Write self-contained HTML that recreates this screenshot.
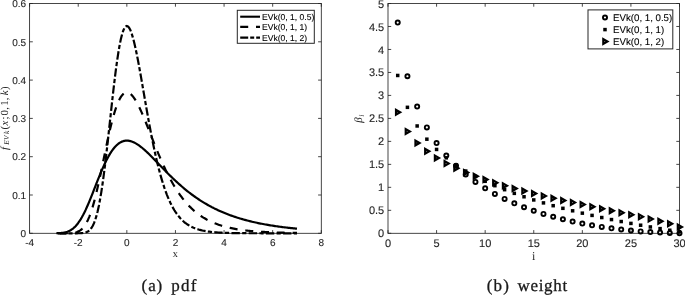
<!DOCTYPE html>
<html lang="en"><head><meta charset="utf-8"><title>EVk pdf and weight</title>
<style>html,body{margin:0;padding:0;background:#fff}svg{display:block}</style></head>
<body>
<svg width="685" height="295" viewBox="0 0 685 295">
<rect width="685" height="295" fill="#fff"/>
<g text-rendering="geometricPrecision">
<g stroke="#262626" stroke-width="0.85" fill="none" stroke-linecap="butt">
<rect x="29.60" y="3.50" width="291.70" height="229.80"/>
<path d="M29.60 233.30v-3.2M29.60 3.50v3.2M78.22 233.30v-3.2M78.22 3.50v3.2M126.83 233.30v-3.2M126.83 3.50v3.2M175.45 233.30v-3.2M175.45 3.50v3.2M224.07 233.30v-3.2M224.07 3.50v3.2M272.68 233.30v-3.2M272.68 3.50v3.2M321.30 233.30v-3.2M321.30 3.50v3.2M29.60 233.30h3.2M321.30 233.30h-3.2M29.60 195.00h3.2M321.30 195.00h-3.2M29.60 156.70h3.2M321.30 156.70h-3.2M29.60 118.40h3.2M321.30 118.40h-3.2M29.60 80.10h3.2M321.30 80.10h-3.2M29.60 41.80h3.2M321.30 41.80h-3.2M29.60 3.50h3.2M321.30 3.50h-3.2"/>
</g>
<g font-family="'Liberation Sans', sans-serif" font-size="10.0" fill="#262626" stroke="#262626" stroke-width="0.12">
<text x="29.60" y="246.20" text-anchor="middle">-4</text>
<text x="78.22" y="246.20" text-anchor="middle">-2</text>
<text x="126.83" y="246.20" text-anchor="middle">0</text>
<text x="175.45" y="246.20" text-anchor="middle">2</text>
<text x="224.07" y="246.20" text-anchor="middle">4</text>
<text x="272.68" y="246.20" text-anchor="middle">6</text>
<text x="321.30" y="246.20" text-anchor="middle">8</text>
<text x="26.10" y="237.00" text-anchor="end">0</text>
<text x="26.10" y="198.70" text-anchor="end">0.1</text>
<text x="26.10" y="160.40" text-anchor="end">0.2</text>
<text x="26.10" y="122.10" text-anchor="end">0.3</text>
<text x="26.10" y="83.80" text-anchor="end">0.4</text>
<text x="26.10" y="45.50" text-anchor="end">0.5</text>
<text x="26.10" y="7.20" text-anchor="end">0.6</text>
</g>
<g fill="none" stroke="#000" stroke-width="2.2" stroke-linejoin="round">
<polyline points="56.34,233.23 57.55,233.19 58.77,233.13 59.99,233.06 61.20,232.95 62.42,232.81 63.63,232.63 64.85,232.39 66.06,232.09 67.28,231.72 68.49,231.25 69.71,230.68 70.92,230.01 72.14,229.20 73.36,228.26 74.57,227.18 75.79,225.94 77.00,224.54 78.22,222.97 79.43,221.24 80.65,219.34 81.86,217.27 83.08,215.05 84.29,212.67 85.51,210.15 86.72,207.49 87.94,204.72 89.16,201.85 90.37,198.89 91.59,195.87 92.80,192.79 94.02,189.69 95.23,186.57 96.45,183.45 97.66,180.37 98.88,177.32 100.09,174.33 101.31,171.42 102.53,168.59 103.74,165.86 104.96,163.24 106.17,160.75 107.39,158.39 108.60,156.16 109.82,154.08 111.03,152.15 112.25,150.37 113.46,148.74 114.68,147.27 115.89,145.95 117.11,144.78 118.33,143.77 119.54,142.91 120.76,142.19 121.97,141.61 123.19,141.17 124.40,140.86 125.62,140.68 126.83,140.63 128.05,140.68 129.26,140.85 130.48,141.12 131.69,141.49 132.91,141.95 134.13,142.50 135.34,143.12 136.56,143.83 137.77,144.60 138.99,145.43 140.20,146.32 141.42,147.27 142.63,148.26 143.85,149.30 145.06,150.38 146.28,151.49 147.50,152.63 148.71,153.80 149.93,154.99 151.14,156.20 152.36,157.42 153.57,158.66 154.79,159.91 156.00,161.17 157.22,162.43 158.43,163.70 159.65,164.96 160.86,166.23 162.08,167.49 163.30,168.74 164.51,169.99 165.73,171.24 166.94,172.47 168.16,173.69 169.37,174.91 170.59,176.11 171.80,177.29 173.02,178.47 174.23,179.62 175.45,180.77 176.67,181.90 177.88,183.01 179.10,184.10 180.31,185.18 181.53,186.24 182.74,187.29 183.96,188.31 185.17,189.32 186.39,190.31 187.60,191.28 188.82,192.24 190.03,193.18 191.25,194.10 192.47,195.00 193.68,195.88 194.90,196.75 196.11,197.60 197.33,198.43 198.54,199.25 199.76,200.05 200.97,200.83 202.19,201.59 203.40,202.34 204.62,203.07 205.84,203.79 207.05,204.49 208.27,205.18 209.48,205.85 210.70,206.50 211.91,207.15 213.13,207.77 214.34,208.39 215.56,208.98 216.77,209.57 217.99,210.14 219.20,210.70 220.42,211.25 221.64,211.78 222.85,212.30 224.07,212.81 225.28,213.31 226.50,213.79 227.71,214.27 228.93,214.73 230.14,215.18 231.36,215.62 232.57,216.05 233.79,216.47 235.01,216.88 236.22,217.28 237.44,217.68 238.65,218.06 239.87,218.43 241.08,218.79 242.30,219.15 243.51,219.50 244.73,219.83 245.94,220.16 247.16,220.49 248.37,220.80 249.59,221.11 250.81,221.41 252.02,221.70 253.24,221.98 254.45,222.26 255.67,222.53 256.88,222.80 258.10,223.05 259.31,223.31 260.53,223.55 261.74,223.79 262.96,224.03 264.18,224.25 265.39,224.48 266.61,224.69 267.82,224.91 269.04,225.11 270.25,225.31 271.47,225.51 272.68,225.70 273.90,225.89 275.11,226.07 276.33,226.25 277.55,226.42 278.76,226.59 279.98,226.76 281.19,226.92 282.41,227.08 283.62,227.23 284.84,227.38 286.05,227.53 287.27,227.67 288.48,227.81 289.70,227.94 290.91,228.07 292.13,228.20 293.35,228.33 294.56,228.45 295.78,228.57 296.99,228.69"/>
<polyline points="56.34,233.30 57.55,233.30 58.77,233.30 59.99,233.30 61.20,233.30 62.42,233.30 63.63,233.29 64.85,233.29 66.06,233.28 67.28,233.26 68.49,233.23 69.71,233.19 70.92,233.12 72.14,233.02 73.36,232.88 74.57,232.69 75.79,232.41 77.00,232.04 78.22,231.55 79.43,230.91 80.65,230.10 81.86,229.09 83.08,227.83 84.29,226.32 85.51,224.51 86.72,222.37 87.94,219.90 89.16,217.07 90.37,213.88 91.59,210.31 92.80,206.38 94.02,202.09 95.23,197.47 96.45,192.54 97.66,187.33 98.88,181.89 100.09,176.25 101.31,170.47 102.53,164.60 103.74,158.69 104.96,152.79 106.17,146.95 107.39,141.24 108.60,135.68 109.82,130.35 111.03,125.26 112.25,120.47 113.46,115.99 114.68,111.87 115.89,108.12 117.11,104.76 118.33,101.81 119.54,99.25 120.76,97.12 121.97,95.39 123.19,94.06 124.40,93.13 125.62,92.58 126.83,92.40 128.05,92.58 129.26,93.08 130.48,93.90 131.69,95.02 132.91,96.40 134.13,98.04 135.34,99.90 136.56,101.97 137.77,104.22 138.99,106.64 140.20,109.20 141.42,111.88 142.63,114.67 143.85,117.55 145.06,120.49 146.28,123.50 147.50,126.54 148.71,129.60 149.93,132.69 151.14,135.77 152.36,138.85 153.57,141.91 154.79,144.94 156.00,147.94 157.22,150.90 158.43,153.82 159.65,156.68 160.86,159.49 162.08,162.24 163.30,164.93 164.51,167.55 165.73,170.11 166.94,172.60 168.16,175.01 169.37,177.36 170.59,179.64 171.80,181.84 173.02,183.97 174.23,186.04 175.45,188.03 176.67,189.95 177.88,191.80 179.10,193.59 180.31,195.31 181.53,196.97 182.74,198.56 183.96,200.10 185.17,201.57 186.39,202.98 187.60,204.34 188.82,205.64 190.03,206.89 191.25,208.09 192.47,209.23 193.68,210.33 194.90,211.38 196.11,212.39 197.33,213.35 198.54,214.28 199.76,215.16 200.97,216.00 202.19,216.81 203.40,217.58 204.62,218.31 205.84,219.01 207.05,219.69 208.27,220.33 209.48,220.94 210.70,221.52 211.91,222.08 213.13,222.61 214.34,223.12 215.56,223.60 216.77,224.06 217.99,224.50 219.20,224.92 220.42,225.32 221.64,225.70 222.85,226.07 224.07,226.41 225.28,226.74 226.50,227.06 227.71,227.36 228.93,227.64 230.14,227.91 231.36,228.17 232.57,228.42 233.79,228.66 235.01,228.88 236.22,229.09 237.44,229.30 238.65,229.49 239.87,229.67 241.08,229.85 242.30,230.01 243.51,230.17 244.73,230.33 245.94,230.47 247.16,230.61 248.37,230.74 249.59,230.86 250.81,230.98 252.02,231.09 253.24,231.20 254.45,231.30 255.67,231.40 256.88,231.49 258.10,231.58 259.31,231.66 260.53,231.74 261.74,231.82 262.96,231.89 264.18,231.96 265.39,232.02 266.61,232.08 267.82,232.14 269.04,232.20 270.25,232.25 271.47,232.30 272.68,232.35 273.90,232.40 275.11,232.44 276.33,232.48 277.55,232.52 278.76,232.56 279.98,232.60 281.19,232.63 282.41,232.66 283.62,232.70 284.84,232.73 286.05,232.75 287.27,232.78 288.48,232.81 289.70,232.83 290.91,232.85 292.13,232.87 293.35,232.89 294.56,232.91 295.78,232.93 296.99,232.95" stroke-dasharray="8 7.8" stroke-dashoffset="12.27"/>
<polyline points="56.34,233.30 57.55,233.30 58.77,233.30 59.99,233.30 61.20,233.30 62.42,233.30 63.63,233.30 64.85,233.30 66.06,233.30 67.28,233.30 68.49,233.30 69.71,233.30 70.92,233.30 72.14,233.30 73.36,233.30 74.57,233.30 75.79,233.29 77.00,233.28 78.22,233.27 79.43,233.24 80.65,233.19 81.86,233.11 83.08,232.99 84.29,232.79 85.51,232.49 86.72,232.05 87.94,231.43 89.16,230.55 90.37,229.36 91.59,227.78 92.80,225.73 94.02,223.13 95.23,219.89 96.45,215.95 97.66,211.23 98.88,205.70 100.09,199.31 101.31,192.08 102.53,184.01 103.74,175.16 104.96,165.60 106.17,155.43 107.39,144.78 108.60,133.78 109.82,122.60 111.03,111.39 112.25,100.33 113.46,89.59 114.68,79.31 115.89,69.65 117.11,60.75 118.33,52.72 119.54,45.64 120.76,39.61 121.97,34.65 123.19,30.82 124.40,28.10 125.62,26.49 126.83,25.97 128.05,26.48 129.26,27.96 130.48,30.36 131.69,33.59 132.91,37.57 134.13,42.22 135.34,47.45 136.56,53.17 137.77,59.30 138.99,65.75 140.20,72.46 141.42,79.34 142.63,86.33 143.85,93.37 145.06,100.40 146.28,107.38 147.50,114.26 148.71,121.00 149.93,127.57 151.14,133.96 152.36,140.13 153.57,146.07 154.79,151.76 156.00,157.21 157.22,162.40 158.43,167.33 159.65,172.00 160.86,176.41 162.08,180.57 163.30,184.48 164.51,188.16 165.73,191.60 166.94,194.82 168.16,197.82 169.37,200.62 170.59,203.22 171.80,205.64 173.02,207.89 174.23,209.97 175.45,211.89 176.67,213.67 177.88,215.32 179.10,216.83 180.31,218.23 181.53,219.52 182.74,220.70 183.96,221.79 185.17,222.78 186.39,223.70 187.60,224.54 188.82,225.31 190.03,226.02 191.25,226.66 192.47,227.25 193.68,227.79 194.90,228.28 196.11,228.73 197.33,229.15 198.54,229.52 199.76,229.86 200.97,230.17 202.19,230.46 203.40,230.72 204.62,230.95 205.84,231.17 207.05,231.36 208.27,231.54 209.48,231.70 210.70,231.85 211.91,231.98 213.13,232.11 214.34,232.22 215.56,232.32 216.77,232.41 217.99,232.49 219.20,232.57 220.42,232.64 221.64,232.70 222.85,232.75 224.07,232.80 225.28,232.85 226.50,232.89 227.71,232.93 228.93,232.97 230.14,233.00 231.36,233.03 232.57,233.05 233.79,233.07 235.01,233.10 236.22,233.12 237.44,233.13 238.65,233.15 239.87,233.16 241.08,233.18 242.30,233.19 243.51,233.20 244.73,233.21 245.94,233.22 247.16,233.22 248.37,233.23 249.59,233.24 250.81,233.24 252.02,233.25 253.24,233.25 254.45,233.26 255.67,233.26 256.88,233.27 258.10,233.27 259.31,233.27 260.53,233.27 261.74,233.28 262.96,233.28 264.18,233.28 265.39,233.28 266.61,233.28 267.82,233.29 269.04,233.29 270.25,233.29 271.47,233.29 272.68,233.29 273.90,233.29 275.11,233.29 276.33,233.29 277.55,233.29 278.76,233.29 279.98,233.29 281.19,233.30 282.41,233.30 283.62,233.30 284.84,233.30 286.05,233.30 287.27,233.30 288.48,233.30 289.70,233.30 290.91,233.30 292.13,233.30 293.35,233.30 294.56,233.30 295.78,233.30 296.99,233.30" stroke-dasharray="8.4 2.3 4.2 2.3" stroke-dashoffset="15.86"/>
</g>
<rect x="237.3" y="10.3" width="77.0" height="33.0" fill="#fff" stroke="#262626" stroke-width="1"/>
<g fill="none" stroke="#000" stroke-width="2.1">
<path d="M240.2 16.7H260"/>
<path d="M240.2 26.9H260" stroke-dasharray="8 7.8"/>
<path d="M240.2 37.6H260" stroke-dasharray="8 2 4 2"/>
</g>
<g font-family="'Liberation Sans', sans-serif" font-size="8.55" fill="#000" stroke="#000" stroke-width="0.1">
<text x="262" y="19.70">EVk(0, 1, 0.5)</text>
<text x="262" y="29.90">EVk(0, 1, 1)</text>
<text x="262" y="40.60">EVk(0, 1, 2)</text>
</g>
<text x="175.45" y="256.6" text-anchor="middle" font-family="'Liberation Serif', serif" font-size="10.3" fill="#262626">x</text>
<text transform="translate(7.6 150.6) rotate(-90)" font-family="'Liberation Serif', serif" font-size="10.8" fill="#262626"><tspan x="0.57" y="0" font-style="italic">f</tspan><tspan x="5.89" y="1.5" font-style="italic" font-size="7.4">E</tspan><tspan x="10.54" y="1.5" font-style="italic" font-size="7.4">V</tspan><tspan x="16.6" y="1.5" font-style="italic" font-size="7.4">k</tspan><tspan x="21.14" y="0">(</tspan><tspan x="25.01" y="0" font-style="italic">x</tspan><tspan x="31.23" y="0">; </tspan><tspan x="35.1" y="0">0</tspan><tspan x="40.83" y="0">, </tspan><tspan x="44.75" y="0">1</tspan><tspan x="50.43" y="0">, </tspan><tspan x="55.27" y="0" font-style="italic">k</tspan><tspan x="60.62" y="0">)</tspan></text>
<g stroke="#262626" stroke-width="0.85" fill="none" stroke-linecap="butt">
<rect x="388.00" y="3.50" width="291.50" height="229.80"/>
<path d="M388.00 233.30v-3.2M388.00 3.50v3.2M436.58 233.30v-3.2M436.58 3.50v3.2M485.17 233.30v-3.2M485.17 3.50v3.2M533.75 233.30v-3.2M533.75 3.50v3.2M582.33 233.30v-3.2M582.33 3.50v3.2M630.92 233.30v-3.2M630.92 3.50v3.2M679.50 233.30v-3.2M679.50 3.50v3.2M388.00 233.30h3.2M679.50 233.30h-3.2M388.00 210.32h3.2M679.50 210.32h-3.2M388.00 187.34h3.2M679.50 187.34h-3.2M388.00 164.36h3.2M679.50 164.36h-3.2M388.00 141.38h3.2M679.50 141.38h-3.2M388.00 118.40h3.2M679.50 118.40h-3.2M388.00 95.42h3.2M679.50 95.42h-3.2M388.00 72.44h3.2M679.50 72.44h-3.2M388.00 49.46h3.2M679.50 49.46h-3.2M388.00 26.48h3.2M679.50 26.48h-3.2M388.00 3.50h3.2M679.50 3.50h-3.2"/>
</g>
<g font-family="'Liberation Sans', sans-serif" font-size="11.0" fill="#262626" stroke="#262626" stroke-width="0.12">
<text x="388.00" y="246.90" text-anchor="middle">0</text>
<text x="436.58" y="246.90" text-anchor="middle">5</text>
<text x="485.17" y="246.90" text-anchor="middle">10</text>
<text x="533.75" y="246.90" text-anchor="middle">15</text>
<text x="582.33" y="246.90" text-anchor="middle">20</text>
<text x="630.92" y="246.90" text-anchor="middle">25</text>
<text x="679.50" y="246.90" text-anchor="middle">30</text>
<text x="384.20" y="237.35" text-anchor="end">0</text>
<text x="384.20" y="214.37" text-anchor="end">0.5</text>
<text x="384.20" y="191.39" text-anchor="end">1</text>
<text x="384.20" y="168.41" text-anchor="end">1.5</text>
<text x="384.20" y="145.43" text-anchor="end">2</text>
<text x="384.20" y="122.45" text-anchor="end">2.5</text>
<text x="384.20" y="99.47" text-anchor="end">3</text>
<text x="384.20" y="76.49" text-anchor="end">3.5</text>
<text x="384.20" y="53.51" text-anchor="end">4</text>
<text x="384.20" y="30.53" text-anchor="end">4.5</text>
<text x="384.20" y="7.55" text-anchor="end">5</text>
</g>
<g fill="none" stroke="#000" stroke-width="1.9">
<circle cx="397.72" cy="22.59" r="2.05"/>
<circle cx="407.43" cy="76.24" r="2.05"/>
<circle cx="417.15" cy="106.55" r="2.05"/>
<circle cx="426.87" cy="127.40" r="2.05"/>
<circle cx="436.58" cy="143.12" r="2.05"/>
<circle cx="446.30" cy="155.61" r="2.05"/>
<circle cx="456.02" cy="165.87" r="2.05"/>
<circle cx="465.73" cy="174.51" r="2.05"/>
<circle cx="475.45" cy="181.91" r="2.05"/>
<circle cx="485.17" cy="188.33" r="2.05"/>
<circle cx="494.88" cy="193.95" r="2.05"/>
<circle cx="504.60" cy="198.92" r="2.05"/>
<circle cx="514.32" cy="203.33" r="2.05"/>
<circle cx="524.03" cy="207.26" r="2.05"/>
<circle cx="533.75" cy="210.77" r="2.05"/>
<circle cx="543.47" cy="213.92" r="2.05"/>
<circle cx="553.18" cy="216.74" r="2.05"/>
<circle cx="562.90" cy="219.27" r="2.05"/>
<circle cx="572.62" cy="221.54" r="2.05"/>
<circle cx="582.33" cy="223.55" r="2.05"/>
<circle cx="592.05" cy="225.35" r="2.05"/>
<circle cx="601.77" cy="226.93" r="2.05"/>
<circle cx="611.48" cy="228.32" r="2.05"/>
<circle cx="621.20" cy="229.52" r="2.05"/>
<circle cx="630.92" cy="230.54" r="2.05"/>
<circle cx="640.63" cy="231.40" r="2.05"/>
<circle cx="650.35" cy="232.09" r="2.05"/>
<circle cx="660.07" cy="232.62" r="2.05"/>
<circle cx="669.78" cy="233.00" r="2.05"/>
<circle cx="679.50" cy="233.22" r="2.05"/>
</g>
<g fill="#000">
<rect x="395.97" y="73.72" width="3.5" height="3.5"/>
<rect x="405.68" y="105.58" width="3.5" height="3.5"/>
<rect x="415.40" y="124.22" width="3.5" height="3.5"/>
<rect x="425.12" y="137.44" width="3.5" height="3.5"/>
<rect x="434.83" y="147.69" width="3.5" height="3.5"/>
<rect x="444.55" y="156.07" width="3.5" height="3.5"/>
<rect x="454.27" y="163.16" width="3.5" height="3.5"/>
<rect x="463.98" y="169.30" width="3.5" height="3.5"/>
<rect x="473.70" y="174.71" width="3.5" height="3.5"/>
<rect x="483.42" y="179.55" width="3.5" height="3.5"/>
<rect x="493.13" y="183.93" width="3.5" height="3.5"/>
<rect x="502.85" y="187.93" width="3.5" height="3.5"/>
<rect x="512.57" y="191.61" width="3.5" height="3.5"/>
<rect x="522.28" y="195.02" width="3.5" height="3.5"/>
<rect x="532.00" y="198.19" width="3.5" height="3.5"/>
<rect x="541.72" y="201.15" width="3.5" height="3.5"/>
<rect x="551.43" y="203.94" width="3.5" height="3.5"/>
<rect x="561.15" y="206.57" width="3.5" height="3.5"/>
<rect x="570.87" y="209.05" width="3.5" height="3.5"/>
<rect x="580.58" y="211.41" width="3.5" height="3.5"/>
<rect x="590.30" y="213.65" width="3.5" height="3.5"/>
<rect x="600.02" y="215.79" width="3.5" height="3.5"/>
<rect x="609.73" y="217.83" width="3.5" height="3.5"/>
<rect x="619.45" y="219.79" width="3.5" height="3.5"/>
<rect x="629.17" y="221.66" width="3.5" height="3.5"/>
<rect x="638.88" y="223.47" width="3.5" height="3.5"/>
<rect x="648.60" y="225.20" width="3.5" height="3.5"/>
<rect x="658.32" y="226.87" width="3.5" height="3.5"/>
<rect x="668.03" y="228.48" width="3.5" height="3.5"/>
<rect x="677.75" y="230.04" width="3.5" height="3.5"/>
</g>
<g fill="none" stroke="#000" stroke-width="2.2" stroke-linejoin="miter">
<path d="M396.02 109.85V114.55L400.11 112.20Z"/>
<path d="M405.73 129.07V133.77L409.82 131.42Z"/>
<path d="M415.45 140.62V145.32L419.54 142.97Z"/>
<path d="M425.17 148.99V153.69L429.26 151.34Z"/>
<path d="M434.88 155.62V160.32L438.97 157.97Z"/>
<path d="M444.60 161.14V165.84L448.69 163.49Z"/>
<path d="M454.32 165.89V170.59L458.41 168.24Z"/>
<path d="M464.03 170.08V174.78L468.12 172.43Z"/>
<path d="M473.75 173.84V178.54L477.84 176.19Z"/>
<path d="M483.47 177.26V181.96L487.56 179.61Z"/>
<path d="M493.18 180.42V185.12L497.27 182.77Z"/>
<path d="M502.90 183.36V188.06L506.99 185.71Z"/>
<path d="M512.62 186.11V190.81L516.71 188.46Z"/>
<path d="M522.33 188.71V193.41L526.42 191.06Z"/>
<path d="M532.05 191.19V195.89L536.14 193.54Z"/>
<path d="M541.77 193.55V198.25L545.86 195.90Z"/>
<path d="M551.48 195.83V200.53L555.57 198.18Z"/>
<path d="M561.20 198.03V202.73L565.29 200.38Z"/>
<path d="M570.92 200.17V204.87L575.01 202.52Z"/>
<path d="M580.63 202.26V206.96L584.72 204.61Z"/>
<path d="M590.35 204.31V209.01L594.44 206.66Z"/>
<path d="M600.07 206.34V211.04L604.16 208.69Z"/>
<path d="M609.78 208.36V213.06L613.87 210.71Z"/>
<path d="M619.50 210.38V215.08L623.59 212.73Z"/>
<path d="M629.22 212.42V217.12L633.31 214.77Z"/>
<path d="M638.93 214.50V219.20L643.02 216.85Z"/>
<path d="M648.65 216.67V221.37L652.74 219.02Z"/>
<path d="M658.37 218.97V223.67L662.46 221.32Z"/>
<path d="M668.08 221.51V226.21L672.17 223.86Z"/>
<path d="M677.80 224.55V229.25L681.89 226.90Z"/>
</g>
<rect x="588.0" y="9.9" width="84.8" height="39.0" fill="#fff" stroke="#262626" stroke-width="1"/>
<circle cx="605.0" cy="17.5" r="2.05" fill="none" stroke="#000" stroke-width="1.9"/>
<rect x="603.25" y="27.85" width="3.5" height="3.5" fill="#000"/>
<g fill="none" stroke="#000" stroke-width="2.2"><path d="M603.30 39.25V43.95L607.39 41.60Z"/></g>
<g font-family="'Liberation Sans', sans-serif" font-size="9.7" fill="#000" stroke="#000" stroke-width="0.1">
<text x="613.0" y="20.70">EVk(0, 1, 0.5)</text>
<text x="613.0" y="32.90">EVk(0, 1, 1)</text>
<text x="613.0" y="45.00">EVk(0, 1, 2)</text>
</g>
<text x="533.75" y="259.6" text-anchor="middle" font-family="'Liberation Serif', serif" font-size="12" fill="#262626">i</text>
<text transform="translate(362 123.5) rotate(-90)" font-family="'Liberation Serif', serif" font-size="11" font-style="italic" fill="#262626"><tspan x="0.66" y="0">β</tspan><tspan x="6.7" y="1.6" font-size="7.7">i</tspan></text>
<g font-family="'Liberation Serif', serif" font-size="17" fill="#1a1a1a" stroke="#1a1a1a" stroke-width="0.3">
<text y="291.3"><tspan x="141.6" letter-spacing="0.9">(a) </tspan><tspan x="171.2" letter-spacing="1.3">pdf</tspan></text>
<text y="291.3"><tspan x="486.8" letter-spacing="1.1">(b) </tspan><tspan x="517.6" letter-spacing="0.65">weight</tspan></text>
</g>
</g>
</svg>
</body></html>
